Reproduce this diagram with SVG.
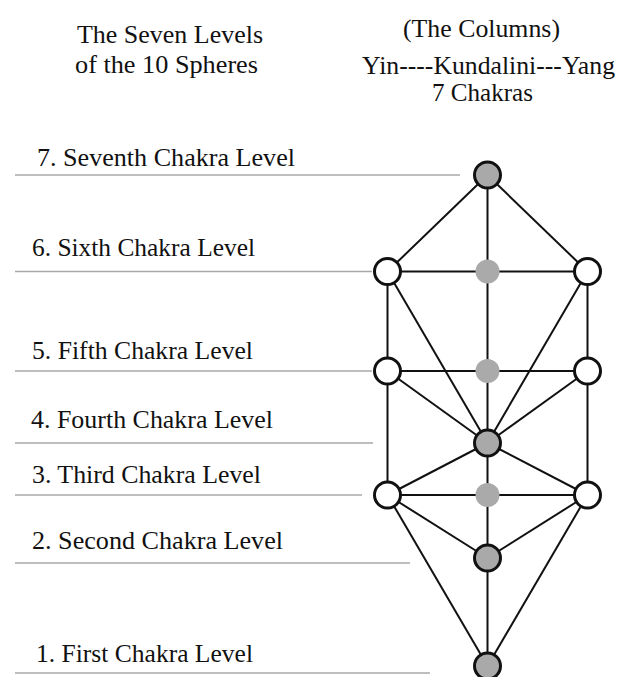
<svg xmlns="http://www.w3.org/2000/svg" width="629" height="677" viewBox="0 0 629 677">
<style>
text{font-family:"Liberation Serif","Times New Roman",serif;font-size:25px;fill:#111}
.lvl{stroke:#a8a8a8;stroke-width:1.6;fill:none}
.edge{stroke:#111;stroke-width:2;fill:none}
.open{fill:#fff;stroke:#111;stroke-width:3}
.gray{fill:#a9a9a9;stroke:#111;stroke-width:3}
.dot{fill:#aaaaaa;stroke:none}
</style>
<rect width="629" height="677" fill="#fff"/>
<g id="titles">
<text x="77" y="43" textLength="186" lengthAdjust="spacingAndGlyphs">The Seven Levels</text>
<text x="75" y="73" textLength="183" lengthAdjust="spacingAndGlyphs">of the 10 Spheres</text>
<text x="403" y="37" textLength="157" lengthAdjust="spacingAndGlyphs">(The Columns)</text>
<text x="362" y="74" textLength="253" lengthAdjust="spacingAndGlyphs">Yin----Kundalini---Yang</text>
<text x="432" y="101" textLength="101" lengthAdjust="spacingAndGlyphs">7 Chakras</text>
</g>
<g id="levels">
<line class="lvl" x1="15" y1="175" x2="460" y2="175"/>
<line class="lvl" x1="15" y1="271.5" x2="372" y2="271.5"/>
<line class="lvl" x1="15" y1="371" x2="372" y2="371"/>
<line class="lvl" x1="15" y1="443" x2="373" y2="443"/>
<line class="lvl" x1="15" y1="495" x2="362" y2="495"/>
<line class="lvl" x1="15" y1="563" x2="410" y2="563"/>
<line class="lvl" x1="15" y1="673" x2="430" y2="673"/>
<text x="37" y="166" textLength="258" lengthAdjust="spacingAndGlyphs">7. Seventh Chakra Level</text>
<text x="32" y="256" textLength="223" lengthAdjust="spacingAndGlyphs">6. Sixth Chakra Level</text>
<text x="32" y="359" textLength="221" lengthAdjust="spacingAndGlyphs">5. Fifth Chakra Level</text>
<text x="31" y="428" textLength="242" lengthAdjust="spacingAndGlyphs">4. Fourth Chakra Level</text>
<text x="32" y="483" textLength="229" lengthAdjust="spacingAndGlyphs">3. Third Chakra Level</text>
<text x="32" y="549" textLength="251" lengthAdjust="spacingAndGlyphs">2. Second Chakra Level</text>
<text x="36" y="662" textLength="217" lengthAdjust="spacingAndGlyphs">1. First Chakra Level</text>
</g>
<g id="connectors">
<line class="edge" x1="487.5" y1="175" x2="487.5" y2="666"/>
<line class="edge" x1="487.5" y1="175" x2="387.5" y2="271.5"/>
<line class="edge" x1="487.5" y1="175" x2="587.5" y2="271.5"/>
<line class="edge" x1="387.5" y1="271.5" x2="587.5" y2="271.5"/>
<line class="edge" x1="387.5" y1="371" x2="587.5" y2="371"/>
<line class="edge" x1="387.5" y1="495" x2="587.5" y2="495"/>
<line class="edge" x1="387.5" y1="271.5" x2="387.5" y2="495"/>
<line class="edge" x1="587.5" y1="271.5" x2="587.5" y2="495"/>
<line class="edge" x1="387.5" y1="271.5" x2="487.5" y2="443"/>
<line class="edge" x1="587.5" y1="271.5" x2="487.5" y2="443"/>
<line class="edge" x1="387.5" y1="371" x2="487.5" y2="443"/>
<line class="edge" x1="587.5" y1="371" x2="487.5" y2="443"/>
<line class="edge" x1="387.5" y1="495" x2="487.5" y2="443"/>
<line class="edge" x1="587.5" y1="495" x2="487.5" y2="443"/>
<line class="edge" x1="387.5" y1="495" x2="487.5" y2="558"/>
<line class="edge" x1="587.5" y1="495" x2="487.5" y2="558"/>
<line class="edge" x1="387.5" y1="495" x2="487.5" y2="666"/>
<line class="edge" x1="587.5" y1="495" x2="487.5" y2="666"/>
</g>
<g id="n7"><circle class="gray" cx="487.5" cy="175" r="13"/></g>
<g id="n6L"><circle class="open" cx="387.5" cy="271.5" r="13"/></g>
<g id="n6M"><circle class="dot" cx="487.5" cy="271.5" r="12"/></g>
<g id="n6R"><circle class="open" cx="587.5" cy="271.5" r="13"/></g>
<g id="n5L"><circle class="open" cx="387.5" cy="371" r="13"/></g>
<g id="n5M"><circle class="dot" cx="487.5" cy="371" r="12"/></g>
<g id="n5R"><circle class="open" cx="587.5" cy="371" r="13"/></g>
<g id="n4"><circle class="gray" cx="487.5" cy="443" r="13"/></g>
<g id="n3L"><circle class="open" cx="387.5" cy="495" r="13"/></g>
<g id="n3M"><circle class="dot" cx="487.5" cy="495" r="12"/></g>
<g id="n3R"><circle class="open" cx="587.5" cy="495" r="13"/></g>
<g id="n2"><circle class="gray" cx="487.5" cy="558" r="13"/></g>
<g id="n1"><circle class="gray" cx="487.5" cy="666" r="13"/></g>
</svg>
